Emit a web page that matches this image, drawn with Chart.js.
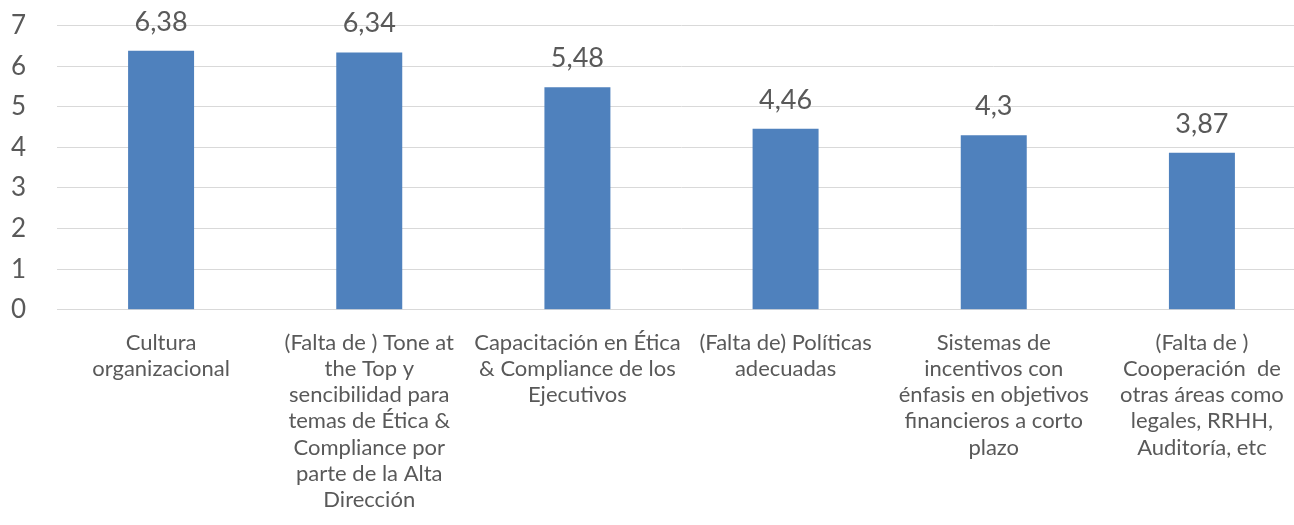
<!DOCTYPE html>
<html>
<head>
<meta charset="utf-8">
<script src="https://cdn.jsdelivr.net/npm/chart.js@4"></script>
<style>
  html, body { margin: 0; padding: 0; background: #fff; overflow: hidden; }
  #wrap { width: 1306px; height: 525px; }
</style>
</head>
<body>
<div id="wrap"><canvas id="bar-chart"></canvas></div>
<script>
const categories = [
  ['Cultura', 'organizacional'],
  ['(Falta de ) Tone at', 'the Top y', 'sencibilidad para', 'temas de Ética &', 'Compliance por', 'parte de la Alta', 'Dirección'],
  ['Capacitación en Ética', '& Compliance de los', 'Ejecutivos'],
  ['(Falta de) Políticas', 'adecuadas'],
  ['Sistemas de', 'incentivos con', 'énfasis en objetivos', 'financieros a corto', 'plazo'],
  ['(Falta de )', 'Cooperación  de', 'otras áreas como', 'legales, RRHH,', 'Auditoría, etc']
];
const values = [6.38, 6.34, 5.48, 4.46, 4.3, 3.87];
const valueLabels = ['6,38', '6,34', '5,48', '4,46', '4,3', '3,87'];

const textColor = '#595959';
const fontName = 'Lato, "Open Sans", sans-serif';

// draws the value above each bar
const barValues = {
  id: 'barValues',
  afterDatasetsDraw(chart) {
    const ctx = chart.ctx;
    const meta = chart.getDatasetMeta(0);
    ctx.save();
    ctx.fillStyle = textColor;
    ctx.font = '27px ' + fontName;
    ctx.textAlign = 'center';
    ctx.textBaseline = 'alphabetic';
    meta.data.forEach(function(bar, i) {
      ctx.fillText(valueLabels[i], bar.x, bar.y - 20);
    });
    ctx.restore();
  }
};

const ctx = document.getElementById('bar-chart').getContext('2d');
const myChart = new Chart(ctx, {
  type: 'bar',
  data: {
    labels: categories,
    datasets: [
      {
        data: values,
        backgroundColor: '#4F81BD',
        borderWidth: 0,
        barPercentage: 0.317,
        categoryPercentage: 1
      }
    ]
  },
  options: {
    responsive: true,
    maintainAspectRatio: false,
    animation: false,
    layout: { padding: { top: 0, left: 11, right: 0, bottom: 0 } },
    plugins: {
      legend: { display: false },
      tooltip: { enabled: false }
    },
    scales: {
      x: {
        grid: { display: false },
        border: { color: '#d9d9d9', width: 1 },
        ticks: {
          color: textColor,
          font: { family: fontName, size: 22, lineHeight: 1.19 },
          maxRotation: 0,
          autoSkip: false,
          padding: 12
        }
      },
      y: {
        min: 0,
        max: 7,
        afterFit(scale) {
          scale.width = 46;
        },
        ticks: {
          stepSize: 1,
          color: textColor,
          font: { family: fontName, size: 26 },
          padding: 10,
          crossAlign: 'far'
        },
        grid: { color: '#d9d9d9', drawTicks: false },
        border: { display: false }
      }
    }
  },
  plugins: [barValues]
});
</script>
</body>
</html>
